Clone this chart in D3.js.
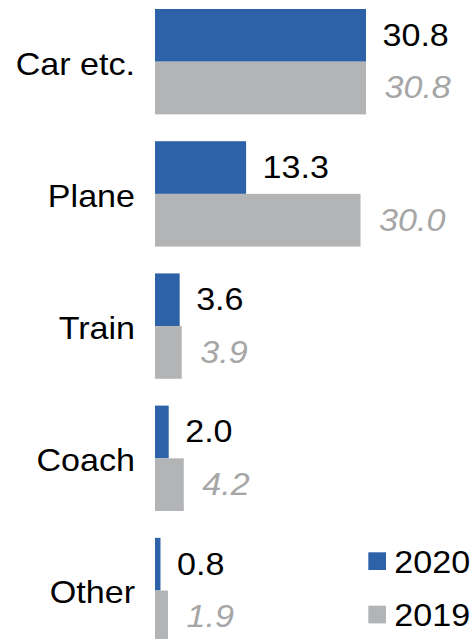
<!DOCTYPE html>
<html>
<head>
<meta charset="utf-8">
<script src="https://cdn.jsdelivr.net/npm/d3@7"></script>
<style>
  html, body { margin: 0; padding: 0; background: #ffffff; }
  svg { display: block; font-family: "Liberation Sans", Arial, Helvetica, sans-serif; }
</style>
</head>
<body>
<svg id="chart" width="473" height="639"></svg>
<script>
const categories = ["Car etc.", "Plane", "Train", "Coach", "Other"];
const seriesNames = ["2020", "2019"];
const values2020 = [30.8, 13.3, 3.6, 2.0, 0.8];
const values2019 = [30.8, 30.0, 3.9, 4.2, 1.9];
const valueLabels2020 = ["30.8", "13.3", "3.6", "2.0", "0.8"];
const valueLabels2019 = ["30.8", "30.0", "3.9", "4.2", "1.9"];

const colors = { "2020": "#2D62A8", "2019": "#B3B4B6" };
const labelColors = { "2020": "#000000", "2019": "#A6A6A6" };
const fs = 32, sx = 1.065;

const svg = d3.select("#chart");

const x = d3.scaleLinear().domain([0, 30.8]).range([155, 366]);
const y = d3.scaleBand().domain(categories).range([9, 643.2]).paddingInner(0.203).paddingOuter(0);
const ySub = d3.scaleBand().domain(seriesNames).range([0, y.bandwidth()]).padding(0);

const rows = categories.map((c, i) => ({
  cat: c,
  items: [
    { s: "2020", v: values2020[i], lab: valueLabels2020[i] },
    { s: "2019", v: values2019[i], lab: valueLabels2019[i] }
  ]
}));

const g = svg.selectAll("g.grp").data(rows).join("g")
  .attr("class", "grp")
  .attr("transform", d => `translate(0,${y(d.cat)})`);

g.selectAll("rect").data(d => d.items).join("rect")
  .attr("x", x(0))
  .attr("y", d => ySub(d.s))
  .attr("width", d => x(d.v) - x(0))
  .attr("height", ySub.bandwidth())
  .attr("fill", d => colors[d.s]);

// value labels
g.selectAll("text.val").data(d => d.items).join("text")
  .attr("class", "val")
  .attr("transform", d => {
    const tx = x(d.v) + (d.s === "2020" ? 16.5 : 18.5);
    const ty = ySub(d.s) + ySub.bandwidth() / 2 - 1 + 0.358 * fs;
    return `translate(${tx},${ty}) scale(${sx},1)`;
  })
  .attr("font-size", fs)
  .attr("font-style", d => d.s === "2019" ? "italic" : "normal")
  .attr("fill", d => labelColors[d.s])
  .text(d => d.lab);

// category labels
g.append("text")
  .attr("transform", d => `translate(135,${y.bandwidth() / 2 + 1.5 + 0.358 * fs}) scale(${sx},1)`)
  .attr("text-anchor", "end")
  .attr("font-size", fs)
  .attr("fill", "#000")
  .text(d => d.cat);

// legend
const legend = svg.append("g");
const legY = d3.scalePoint().domain(seriesNames).range([552.3, 605.7]);
const lg = legend.selectAll("g").data(seriesNames).join("g")
  .attr("transform", d => `translate(368.3,${legY(d)})`);
lg.append("rect").attr("width", 17.7).attr("height", 17.7).attr("fill", d => colors[d]);
lg.append("text")
  .attr("transform", `translate(26,${8.85 + 0.358 * fs}) scale(${sx},1)`)
  .attr("font-size", fs)
  .attr("fill", "#000")
  .text(d => d);
</script>
</body>
</html>
